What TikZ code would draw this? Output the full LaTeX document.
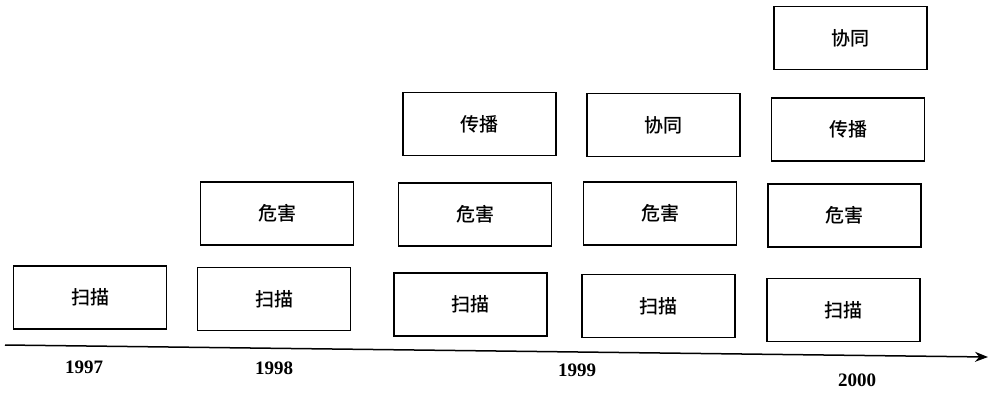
\documentclass[tikz,border=0pt]{standalone}
\usepackage{fontspec}
\setmainfont{Liberation Serif}
\newfontfamily\cjk{Noto Sans CJK SC}[UprightFont=* Medium]
\usetikzlibrary{arrows.meta}
\begin{document}
\begin{tikzpicture}[x=1pt,y=-1pt,
  yearbox/.style={draw,line width=1.5pt,minimum width=153pt,minimum height=63pt,inner sep=0pt,font=\cjk\fontsize{19}{19}\selectfont},
  yearlabel/.style={font=\bfseries\fontsize{19}{19}\selectfont}]
\useasboundingbox (0,0) rectangle (988,394);
% column 1997
\node[yearbox] (a1) at (90,297.5) {扫描};
% column 1998
\node[yearbox] (b1) at (274,299) {扫描};
\node[yearbox] (b2) at (277,213.5) {危害};
% column 1999
\node[yearbox] (c1) at (470.5,304.5) {扫描};
\node[yearbox] (c2) at (475,214.5) {危害};
\node[yearbox] (c3) at (479.5,124) {传播};
% column 1999b
\node[yearbox] (d1) at (658.5,306) {扫描};
\node[yearbox] (d2) at (660,213.5) {危害};
\node[yearbox] (d3) at (663.5,125) {协同};
% column 2000
\node[yearbox] (e1) at (843.5,310) {扫描};
\node[yearbox] (e2) at (844.5,215.5) {危害};
\node[yearbox] (e3) at (848,129.5) {传播};
\node[yearbox] (e4) at (850.5,38) {协同};
% axis
\coordinate (s) at (5,345);
\coordinate (t) at (988,357);
\draw[line width=1.5pt,-{Stealth[length=13pt,width=10pt]}] (s) -- (t);
% labels
\node[yearlabel] (y1) at (84,367) {1997};
\node[yearlabel] (y2) at (274,368) {1998};
\node[yearlabel] (y3) at (577,370) {1999};
\node[yearlabel] (y4) at (857,380) {2000};
\end{tikzpicture}
\end{document}
